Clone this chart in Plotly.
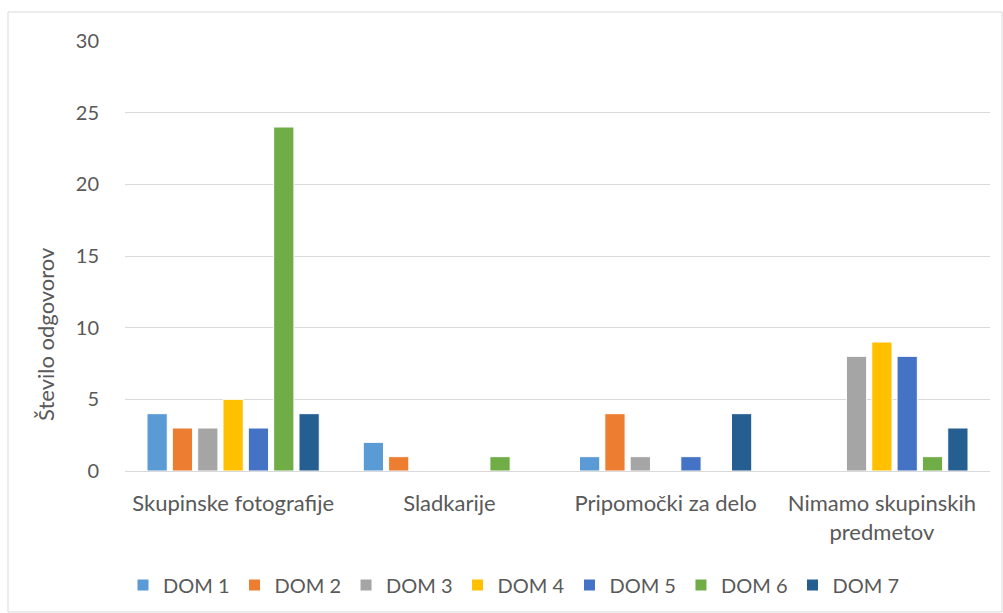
import plotly.graph_objects as go

categories = ["Skupinske fotografije", "Sladkarije", "Pripomočki za delo",
              "Nimamo skupinskih<br>predmetov"]
series_names = ["DOM 1", "DOM 2", "DOM 3", "DOM 4", "DOM 5", "DOM 6", "DOM 7"]
dom1 = [4, 2, 1, 0]
dom2 = [3, 1, 4, 0]
dom3 = [3, 0, 1, 8]
dom4 = [5, 0, 0, 9]
dom5 = [3, 0, 1, 8]
dom6 = [24, 1, 0, 1]
dom7 = [4, 0, 4, 3]
series_values = [dom1, dom2, dom3, dom4, dom5, dom6, dom7]
colors = ["#5B9BD5", "#ED7D31", "#A5A5A5", "#FFC000", "#4472C4", "#70AD47", "#255E91"]
y_title = "Število odgovorov"

W, H = 1003, 613
ML, MR, MT, MB = 125, 13, 41, 142
font_family = "Lato, Open Sans, sans-serif"
text_color = "#595959"

fig = go.Figure()
for name, vals, col in zip(series_names, series_values, colors):
    fig.add_trace(go.Bar(
        x=categories, y=vals, name=name,
        marker=dict(color=col, line=dict(color="white", width=1)),
    ))

pw, ph = W - ML - MR, H - MT - MB
def px_x(p):
    return (p - ML) / pw
def px_y(p):
    return (H - MB - p) / ph

fig.update_layout(
    width=W, height=H,
    margin=dict(l=ML, r=MR, t=MT, b=MB, autoexpand=False),
    paper_bgcolor="white", plot_bgcolor="white",
    barmode="group", bargap=0.18, bargroupgap=0.2,
    font=dict(family=font_family, size=20, color=text_color),
    showlegend=True,
    legend=dict(orientation="h", x=px_x(123), xanchor="left",
                y=px_y(585), yanchor="middle",
                font=dict(size=20, color=text_color),
                itemwidth=30, tracegroupgap=0),
    xaxis=dict(showgrid=False, showline=False, zeroline=False,
               ticks="outside", ticklen=13, tickcolor="rgba(0,0,0,0)",
               tickfont=dict(size=22, color=text_color)),
    yaxis=dict(range=[0, 30], dtick=5, showgrid=True, gridcolor="#D9D9D9",
               gridwidth=1, zeroline=True, zerolinecolor="#D9D9D9", zerolinewidth=1,
               showline=False,
               ticks="outside", ticklen=21, tickcolor="rgba(0,0,0,0)",
               tickfont=dict(size=20, color=text_color)),
    annotations=[dict(text=y_title, textangle=-90, showarrow=False,
                      xref="paper", yref="paper",
                      x=px_x(45), y=px_y(334), xanchor="center", yanchor="middle",
                      font=dict(size=22, color=text_color))],
    shapes=[dict(type="rect", xref="paper", yref="paper",
                 x0=px_x(8), x1=px_x(1002), y0=px_y(612), y1=px_y(12),
                 line=dict(color="#D9D9D9", width=1), fillcolor="rgba(0,0,0,0)",
                 layer="below")],
)

fig.write_html("out.html")
